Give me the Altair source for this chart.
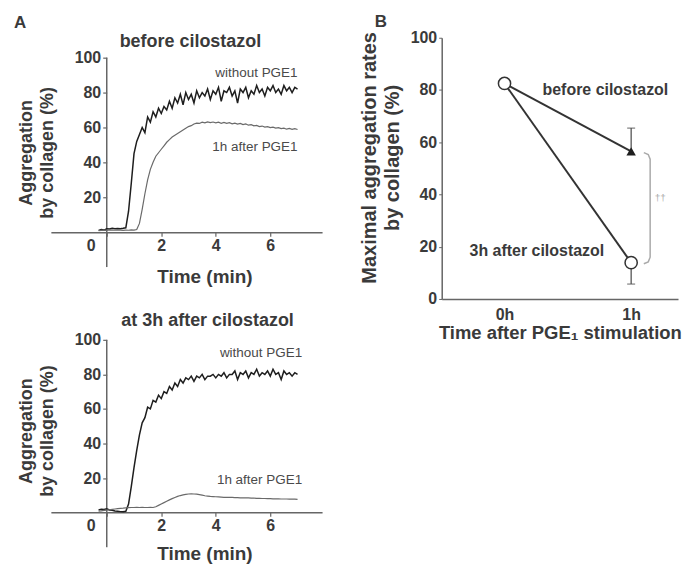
import altair as alt
import pandas as pd

FONT = "Liberation Sans"
TXT = "#3a3a3a"
AX = "#666666"

# ---------------- Panel A data (aggregation traces) ----------------
t_start, t_step, n_pts = -0.3, 0.1, 74
time_min = [round(t_start + i * t_step, 2) for i in range(n_pts)]

a1_without = [
    1.0, 1.5, 1.2, 2.0, 1.8, 2.2, 2.0, 2.1, 2.0, 2.2,
    2.5, 12, 28, 45, 52, 56, 60, 57, 66, 63,
    69, 66, 71, 68, 72, 70, 75, 71, 77, 74,
    79, 73, 80, 76, 79, 74, 81, 77, 80, 78,
    82, 76, 81, 79, 83, 75, 81, 80, 83, 78,
    81, 74, 82, 80, 83, 77, 81, 79, 84, 80,
    82, 78, 83, 81, 84, 80, 82, 79, 84, 81,
    83, 80, 83, 82]
a1_after = [
    0.8, 1.0, 1.2, 1.0, 1.3, 1.2, 1.1, 1.3, 1.2, 1.0,
    1.2, 1.1, 1.3, 1.2, 1.5, 5, 13, 22, 30, 36,
    40, 43.5, 45.5, 47.5, 49.5, 51.5, 53, 54.5, 55.5, 56.5,
    57.5, 58.5, 59.5, 60.5, 61, 62, 62.5, 62.3, 63, 62.6,
    63.2, 62.8, 63.1, 62.6, 63, 62.4, 62.9, 62.3, 62.7, 62.1,
    62.5, 61.9, 62.3, 61.6, 62.0, 61.3, 61.6, 60.9, 61.2, 60.5,
    60.8, 60.2, 60.5, 59.9, 60.2, 59.6, 59.9, 59.3, 59.6, 59.0,
    59.4, 58.9, 59.3, 58.8]
a2_without = [
    1.5, 2.0, 1.8, 2.2, 1.6, 1.4, 1.0, 0.8, 0.6, 0.5,
    0.8, 5, 15, 26, 36, 45, 52, 55, 61, 60,
    65, 64, 68, 66, 70, 69, 73, 71, 75, 73,
    77, 75, 78, 77, 79, 76, 79, 78, 80, 77,
    79, 79, 80, 78, 80, 79, 81, 78, 80, 80,
    82, 77, 81, 80, 82, 78, 81, 80, 83, 79,
    81, 80, 82, 79, 83, 80, 81, 77, 82, 80,
    81, 79, 81, 80]
a2_after = [
    0.8, 1.0, 1.3, 1.5, 1.7, 1.9, 2.1, 2.3, 2.5, 2.6,
    2.8, 2.9, 3.0, 3.0, 3.1, 3.0, 3.1, 3.0, 3.0, 3.1,
    3.0, 3.4, 4.2, 5.0, 5.8, 6.6, 7.4, 8.1, 8.8, 9.4,
    9.9, 10.3, 10.6, 10.8, 10.9, 10.8, 10.7, 10.4, 10.1, 9.8,
    9.6, 9.4, 9.3, 9.2, 9.1, 9.0, 8.9, 8.9, 8.8, 8.8,
    8.7, 8.7, 8.6, 8.6, 8.5, 8.5, 8.4, 8.4, 8.3, 8.3,
    8.2, 8.2, 8.1, 8.1, 8.0, 8.0, 8.0, 7.9, 7.9, 7.9,
    7.8, 7.8, 7.8, 7.7]

series_names = ["without PGE1", "1h after PGE1"]
series_colors = ["#1e1e1e", "#6a6a6a"]

a1_label_t = [7.0, 7.0]
a1_label_v = [91.4, 49.0]
a2_label_t = [7.17, 7.17]
a2_label_v = [92.6, 18.9]

# ---------------- Panel B data ----------------
b_group = ["before cilostazol", "before cilostazol", "3h after cilostazol", "3h after cilostazol"]
b_time = [0, 1, 0, 1]
b_mean = [82.5, 56.5, 82.5, 13.9]
b_err_group = ["before cilostazol", "3h after cilostazol"]
b_err_time = [1, 1]
b_err_mean = [56.5, 13.9]
b_err_end = [65.4, 5.7]
bracket_t = [1.10, 1.135, 1.15, 1.15, 1.135, 1.10]
bracket_v = [56.0, 55.3, 53.5, 16.0, 14.2, 13.5]


def a_panel(vals_without, vals_after, ydom, height, lab_t, lab_v, title, title_t, title_v,
            letter=None, title_y=None, xtitle_pad=14):
    df = pd.DataFrame({
        "t": time_min * 2,
        "v": vals_without + vals_after,
        "s": [series_names[0]] * n_pts + [series_names[1]] * n_pts,
    })
    x_enc = alt.X("t:Q", scale=alt.Scale(domain=[-2.05, 7.9], nice=False, zero=False),
                  axis=alt.Axis(values=[0, 2, 4, 6], offset=-35, title="Time (min)", grid=False,
                                domainColor=AX, domainWidth=1.5, tickColor=AX, tickWidth=1.2,
                                tickSize=4, labelPadding=1, labelFont=FONT, labelFontSize=16,
                                labelFontWeight="bold", labelColor=TXT, titleFont=FONT,
                                titleFontSize=19, titleFontWeight="bold", titleColor=TXT,
                                titlePadding=xtitle_pad, titleX=154,
                                labelOffset={"condition": {"test": "datum.value == 0", "value": -16}, "value": 0}))
    yax = dict(values=[20, 40, 60, 80, 100], offset=-56, domain=False, grid=False,
               tickColor=AX, tickWidth=1.2, tickSize=4, labelPadding=2, labelFont=FONT,
               labelFontSize=16, labelFontWeight="bold", labelColor=TXT,
               title=["Aggregation", "by collagen (%)"], titleFont=FONT, titleFontSize=18,
               titleFontWeight="bold", titleColor=TXT, titlePadding=18, titleLineHeight=21)
    if title_y is not None:
        yax["titleY"] = title_y
    y_enc = alt.Y("v:Q", scale=alt.Scale(domain=ydom, nice=False, zero=False), axis=alt.Axis(**yax))

    axis_df = pd.DataFrame({"t": [0], "v": [-20], "v2": [100]})
    yaxis_rule = alt.Chart(axis_df).mark_rule(color=AX, strokeWidth=1.5).encode(
        x=x_enc, y=y_enc, y2="v2:Q")

    lines = alt.Chart(df).mark_line().encode(
        x=x_enc, y=y_enc,
        color=alt.Color("s:N", scale=alt.Scale(domain=series_names, range=series_colors), legend=None),
        strokeWidth=alt.StrokeWidth("s:N", scale=alt.Scale(domain=series_names, range=[1.5, 1.2]),
                                    legend=None),
        detail="s:N")

    lab_df = pd.DataFrame({"t": lab_t, "v": lab_v, "txt": series_names})
    labels = alt.Chart(lab_df).mark_text(align="right", baseline="middle", font=FONT,
                                         fontSize=13.5, color="#4a4a4a").encode(
        x=x_enc, y=y_enc, text="txt:N")

    ttl_df = pd.DataFrame({"t": [title_t], "v": [title_v], "txt": [title]})
    ttl = alt.Chart(ttl_df).mark_text(align="center", baseline="middle", font=FONT,
                                      fontSize=18, fontWeight="bold", color=TXT).encode(
        x=x_enc, y=y_enc, text="txt:N")

    layers = [yaxis_rule, lines, labels, ttl]
    if letter is not None:
        let_df = pd.DataFrame({"t": [letter[0]], "v": [letter[1]], "txt": [letter[2]]})
        layers.append(alt.Chart(let_df).mark_text(align="center", baseline="middle", font=FONT,
                                                  fontSize=17, fontWeight="bold", color=TXT).encode(
            x=x_enc, y=y_enc, text="txt:N"))
    return alt.layer(*layers).properties(width=272, height=height)


a1 = a_panel(a1_without, a1_after, [-20, 111.4], 230, a1_label_t, a1_label_v,
             "before cilostazol", 3.07, 109, letter=(-3.18, 119.7, "A"))
a2 = a_panel(a2_without, a2_after, [-20, 100], 208, a2_label_t, a2_label_v,
             "at 3h after cilostazol", 3.7, 111, title_y=91, xtitle_pad=11)

# ---------------- Panel B chart ----------------
bx = alt.X("t:Q", scale=alt.Scale(domain=[-0.496, 1.37], nice=False, zero=False),
           axis=alt.Axis(values=[0, 1], labelExpr="datum.value == 0 ? '0h' : '1h'", ticks=False,
                         grid=False, domainColor=AX, domainWidth=1.5, labelPadding=8,
                         labelFont=FONT, labelFontSize=16, labelFontWeight="bold", labelColor=TXT,
                         title="Time after PGE\u2081 stimulation", titleFont=FONT, titleFontSize=18.5,
                         titleFontWeight="bold", titleColor=TXT, titlePadding=1))
by = alt.Y("v:Q", scale=alt.Scale(domain=[0, 100], nice=False, zero=False),
           axis=alt.Axis(values=[0, 20, 40, 60, 80, 100], grid=False, domainColor=AX, domainWidth=1.5,
                         tickColor=AX, tickSize=3, labelPadding=2, labelFont=FONT, labelFontSize=16,
                         labelFontWeight="bold", labelColor=TXT,
                         title=["Maximal aggregation rates", "by collagen (%)"], titleFont=FONT,
                         titleFontSize=20, titleFontWeight="bold", titleColor=TXT, titlePadding=8,
                         titleLineHeight=23, titleY=120))

bdf = pd.DataFrame({"g": b_group, "t": b_time, "v": b_mean})
edf = pd.DataFrame({"g": b_err_group, "t": b_err_time, "v": b_err_mean, "v2": b_err_end})
brdf = pd.DataFrame({"t": bracket_t, "v": bracket_v, "o": list(range(len(bracket_t)))})

b_lines = alt.Chart(bdf).mark_line(color="#333333", strokeWidth=2).encode(x=bx, y=by, detail="g:N")
b_err = alt.Chart(edf).mark_rule(color="#555555", strokeWidth=1.3).encode(x=bx, y=by, y2="v2:Q")
b_cap = alt.Chart(edf).mark_tick(orient="horizontal", size=8, thickness=1.3, color="#555555").encode(
    x=bx, y=alt.Y("v2:Q", scale=alt.Scale(domain=[0, 100], nice=False, zero=False)))
b_tri = alt.Chart(bdf[bdf.g == "before cilostazol"]).mark_point(
    shape="triangle-up", size=90, filled=True, color="#1e1e1e", opacity=1).encode(x=bx, y=by)
b_circ = alt.Chart(bdf[bdf.g == "3h after cilostazol"]).mark_point(
    shape="circle", size=150, fill="white", fillOpacity=1, stroke="#333333", strokeWidth=1.5,
    opacity=1).encode(x=bx, y=by)
b_brk = alt.Chart(brdf).mark_line(color="#aaaaaa", strokeWidth=1.5).encode(x=bx, y=by, order="o:Q")

b_txt_df = pd.DataFrame({"t": [0.30, -0.276], "v": [79.8, 18.3],
                         "txt": ["before cilostazol", "3h after cilostazol"]})
b_txt = alt.Chart(b_txt_df).mark_text(align="left", baseline="middle", font=FONT, fontSize=16,
                                      fontWeight="bold", color=TXT).encode(x=bx, y=by, text="txt:N")
b_sig = alt.Chart(pd.DataFrame({"t": [1.23], "v": [38.5], "txt": ["\u2020\u2020"]})).mark_text(
    align="center", baseline="middle", font=FONT, fontSize=10, color="#aaaaaa").encode(
    x=bx, y=by, text="txt:N")
b_let = alt.Chart(pd.DataFrame({"t": [-0.976], "v": [106.1], "txt": ["B"]})).mark_text(
    align="center", baseline="middle", font=FONT, fontSize=17, fontWeight="bold", color=TXT).encode(
    x=bx, y=by, text="txt:N")

b = alt.layer(b_brk, b_lines, b_err, b_cap, b_tri, b_circ, b_txt, b_sig, b_let).properties(
    width=237, height=262)

chart = alt.concat(a1, b, a2, columns=2, spacing={"row": 41, "column": 120},
                   bounds="flush", align="each").properties(
    padding={"left": 5, "top": 4, "right": 0, "bottom": 0}
).configure(font=FONT, background="white").configure_view(strokeWidth=0, stroke="transparent")

chart.save("out.html", embed_options={"renderer": "svg", "actions": False})
